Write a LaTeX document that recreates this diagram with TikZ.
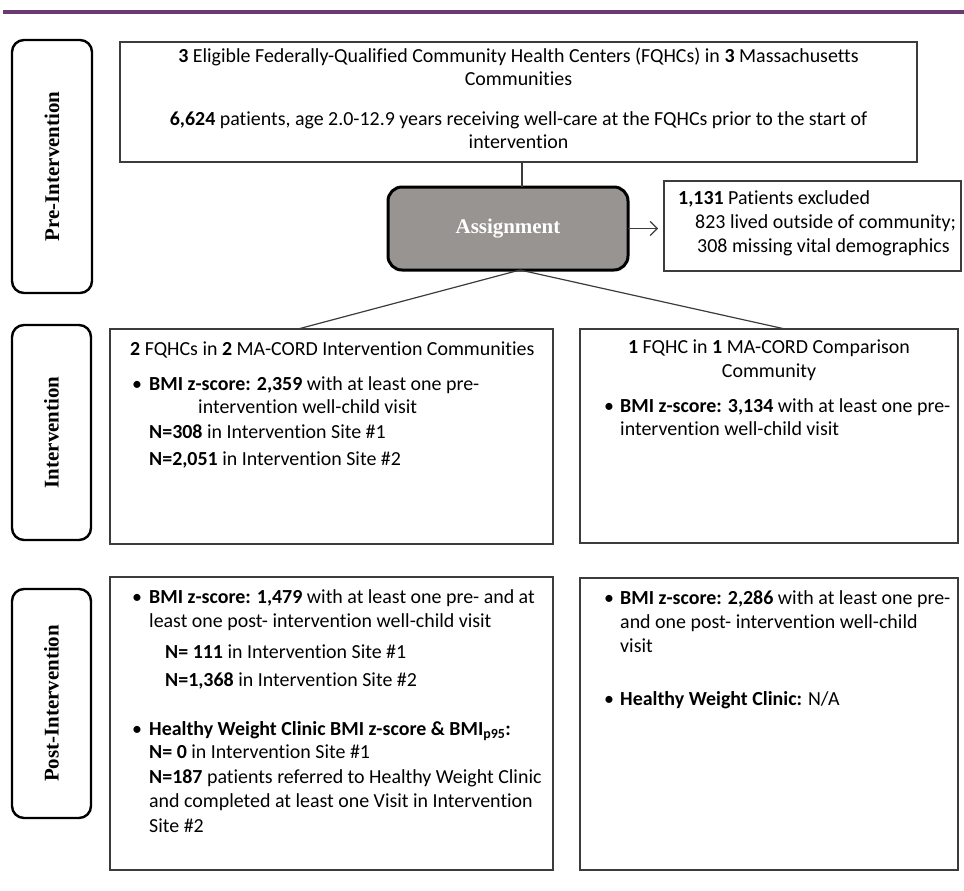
\documentclass[tikz,border=0pt]{standalone}
\usepackage{fontspec}
\usepackage{graphicx}
\setmainfont[Ligatures=NoCommon]{Carlito}
\newfontfamily\serifb{Liberation Serif}
\usetikzlibrary{arrows.meta}
\definecolor{barpurple}{RGB}{108,58,115}
\definecolor{boxline}{RGB}{60,60,60}
\definecolor{asgfill}{RGB}{152,148,146}
\begin{document}
\begin{tikzpicture}[x=1bp,y=-1bp,
  box/.style={draw=boxline, line width=1.3bp, inner sep=0, outer sep=0},
  phase/.style={draw=black, line width=2.4bp, rounded corners=12bp, inner sep=0, outer sep=0,
    font=\serifb\bfseries\fontsize{21}{24}\selectfont},
  asgbox/.style={draw=black, line width=3bp, rounded corners=14bp, fill=asgfill, inner sep=0, outer sep=0,
    text=white, font=\serifb\bfseries\fontsize{21}{24}\selectfont},
  txt/.style={inner sep=0, anchor=west, text height=14bp, text depth=4bp, font=\fontsize{20}{24}\selectfont},
  ctxt/.style={txt, anchor=center},
  conn/.style={draw=boxline, line width=1.2bp}]
\useasboundingbox (0,0) rectangle (964,891);
% top rule
\draw[barpurple, line width=3.5bp] (3,11.75) -- (964,11.75);
% phase labels
\node[phase, minimum width=80bp, minimum height=253bp] (pre) at (52,166.5) {\rotatebox{90}{Pre-Intervention}};
\node[phase, minimum width=79bp, minimum height=215bp] (int) at (51.5,432.5) {\rotatebox{90}{Intervention}};
\node[phase, minimum width=79bp, minimum height=229bp] (post) at (51.5,703.5) {\rotatebox{90}{Post-Intervention}};
% boxes
\node[box, minimum width=797bp, minimum height=120bp] (top) at (518.5,102) {};
\node[asgbox, minimum width=240bp, minimum height=83bp] (asg) at (508,228.5) {Assignment};
\node[box, minimum width=297bp, minimum height=90bp] (exc) at (812.5,226) {};
\node[box, minimum width=443bp, minimum height=215bp] (intL) at (331.5,436.5) {};
\node[box, minimum width=378bp, minimum height=214bp] (intR) at (769,436) {};
\node[box, minimum width=443bp, minimum height=293bp] (postL) at (331.5,723.5) {};
\node[box, minimum width=378bp, minimum height=292bp] (postR) at (769,724) {};
% connectors
\draw[conn] ([xshift=14bp]asg.north |- top.south) -- ([xshift=14bp]asg.north);
\draw[conn, -{Straight Barb[length=7bp,width=14bp]}, shorten >=6bp] (asg.east) -- (asg.east -| exc.west);
\draw[conn] ([xshift=12bp]asg.south) -- ([xshift=-33.5bp]intL.north);
\draw[conn] ([xshift=12bp]asg.south) -- ([xshift=16bp]intR.north);
% top text
\node[ctxt] (t1) at (518.5,57) {\textbf{3} Eligible Federally-Qualified Community Health Centers (FQHCs) in \textbf{3} Massachusetts};
\node[ctxt] (t2) at (518.5,80) {Communities};
\node[ctxt] (t3) at (518.5,120) {\textbf{6,624} patients, age 2.0-12.9 years receiving well-care at the FQHCs prior to the start of};
\node[ctxt] (t4) at (518.5,143) {intervention};
% excluded
\node[txt] (e1) at (678,199) {\textbf{1,131} Patients excluded};
\node[txt] (e2) at (695,223) {823 lived outside of community;};
\node[txt] (e3) at (697,247) {308 missing vital demographics};
% intervention left
\node[txt] (a1) at (130,350) {\textbf{2} FQHCs in \textbf{2} MA-CORD Intervention Communities};
\node[txt] (a2b) at (132,385) {•};
\node[txt] (a2) at (149,385) {\textbf{BMI z-score: 2,359} with at least one pre-};
\node[txt] (a3) at (198,408) {intervention well-child visit};
\node[txt] (a4) at (149,433) {\textbf{N=308} in Intervention Site \#1};
\node[txt] (a5) at (149,460) {\textbf{N=2,051} in Intervention Site \#2};
% intervention right
\node[ctxt] (b1) at (769,348) {\textbf{1} FQHC in \textbf{1} MA-CORD Comparison};
\node[ctxt] (b2) at (769,372) {Community};
\node[txt] (b3b) at (604,407) {•};
\node[txt] (b3) at (620,407) {\textbf{BMI z-score: 3,134} with at least one pre-};
\node[txt] (b4) at (620,430) {intervention well-child visit};
% post left
\node[txt] (c1b) at (132,598) {•};
\node[txt] (c1) at (149,598) {\textbf{BMI z-score: 1,479} with at least one pre- and at};
\node[txt] (c2) at (149,622) {least one post- intervention well-child visit};
\node[txt] (c3) at (165,653) {\textbf{N= 111} in Intervention Site \#1};
\node[txt] (c4) at (165,681) {\textbf{N=1,368} in Intervention Site \#2};
\node[txt] (c5b) at (132,730) {•};
\node[txt] (c5) at (149,730) {\textbf{Healthy Weight Clinic BMI z-score \& BMI\textsubscript{p95}:}};
\node[txt] (c6) at (149,753) {\textbf{N= 0} in Intervention Site \#1};
\node[txt] (c7) at (149,778) {\textbf{N=187} patients referred to Healthy Weight Clinic};
\node[txt] (c8) at (149,802) {and completed at least one Visit in Intervention};
\node[txt] (c9) at (149,827) {Site \#2};
% post right
\node[txt] (d1b) at (604,599) {•};
\node[txt] (d1) at (620,599) {\textbf{BMI z-score: 2,286} with at least one pre-};
\node[txt] (d2) at (620,623) {and one post- intervention well-child};
\node[txt] (d3) at (620,647) {visit};
\node[txt] (d4b) at (604,700) {•};
\node[txt] (d4) at (620,700) {\textbf{Healthy Weight Clinic:} N/A};
\end{tikzpicture}
\end{document}
